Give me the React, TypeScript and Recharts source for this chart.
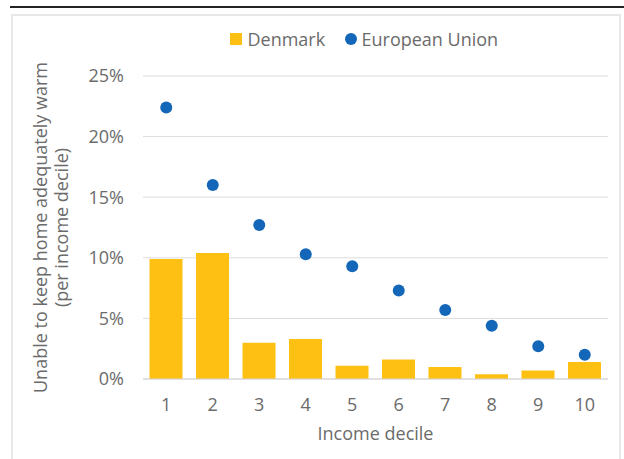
import React from 'react';
import { ComposedChart, Bar, Scatter, XAxis, YAxis, CartesianGrid, Legend, Label } from 'recharts';

const deciles = ['1', '2', '3', '4', '5', '6', '7', '8', '9', '10'];
const denmark = [9.9, 10.4, 3.0, 3.3, 1.1, 1.6, 1.0, 0.4, 0.7, 1.4];
const europeanUnion = [22.4, 16.0, 12.7, 10.3, 9.3, 7.3, 5.7, 4.4, 2.7, 2.0];
const yTicks = [0, 5, 10, 15, 20, 25];

const data = deciles.map((d, i) => ({ decile: d, dk: denmark[i], eu: europeanUnion[i] }));

const FONT = '"Open Sans", Roboto, sans-serif';
const TEXT = '#6b6b6b';
const BAR = '#FFC014';
const DOT = '#1467B8';

const Dot = (props: any) => {
  const { cx, cy } = props;
  if (cx == null || cy == null) return null;
  return <circle cx={cx} cy={cy} r={6} fill={DOT} />;
};

const LegendContent = () => (
  <svg width={624} height={60} style={{ display: 'block' }}>
    <rect x={230} y={33} width={12} height={12} fill={BAR} />
    <text x={247.5} y={45.5} fontSize={18} fill={TEXT} fontFamily={FONT}>Denmark</text>
    <circle cx={351} cy={39} r={6} fill={DOT} />
    <text x={361.5} y={45.5} fontSize={18} fill={TEXT} fontFamily={FONT}>European Union</text>
  </svg>
);

const YLabel = (props: any) => {
  const vb = props.viewBox || {};
  const cy = (vb.y || 0) + (vb.height || 0) / 2;
  const x1 = 47;
  const x2 = 68;
  return (
    <g>
      <text x={x1} y={cy} transform={`rotate(-90, ${x1}, ${cy})`} textAnchor="middle" fontSize={18} fill={TEXT} fontFamily={FONT}>
        Unable to keep home adequately warm
      </text>
      <text x={x2} y={cy} transform={`rotate(-90, ${x2}, ${cy})`} textAnchor="middle" fontSize={18} fill={TEXT} fontFamily={FONT}>
        (per income decile)
      </text>
    </g>
  );
};

export default function App() {
  return (
    <div style={{ position: 'absolute', left: 0, top: 0, width: 624, height: 459, background: '#fff', overflow: 'hidden' }}>
      <div style={{ position: 'absolute', left: 10, top: 6, width: 614, height: 2, background: '#222' }} />
      <div style={{ position: 'absolute', left: 11, top: 14, width: 610, height: 460, border: '2px solid #e8e8e8', boxSizing: 'border-box' }} />
      <div style={{ position: 'absolute', left: 0, top: 0 }}>
        <ComposedChart
          width={624}
          height={459}
          data={data}
          margin={{ top: 76, right: 16, bottom: 0, left: 0 }}
          barCategoryGap="14%"
        >
          <CartesianGrid vertical={false} stroke="#dcdcdc" strokeWidth={1} />
          <XAxis
            dataKey="decile"
            height={80}
            axisLine={{ stroke: '#d4d4d4', strokeWidth: 1 }}
            tickLine={false}
            tickSize={0}
            tickMargin={19}
            tick={{ fill: TEXT, fontSize: 18, fontFamily: FONT }}
          >
            <Label value="Income decile" position="insideBottom" offset={19} fill={TEXT} fontSize={18} fontFamily={FONT} />
          </XAxis>
          <YAxis
            width={143}
            domain={[0, 25]}
            ticks={yTicks}
            axisLine={false}
            tickLine={false}
            tickSize={0}
            tickMargin={19}
            tickFormatter={(v: number) => `${v}%`}
            tick={{ fill: TEXT, fontSize: 18, fontFamily: FONT }}
          >
            <Label content={<YLabel />} />
          </YAxis>
          <Legend verticalAlign="middle" align="center" layout="horizontal" content={<LegendContent />} wrapperStyle={{ top: 0, left: 0, width: 624, height: 60 }} />
          <Bar dataKey="dk" name="Denmark" fill={BAR} isAnimationActive={false} />
          <Scatter dataKey="eu" name="European Union" fill={DOT} shape={<Dot />} isAnimationActive={false} />
        </ComposedChart>
      </div>
    </div>
  );
}
